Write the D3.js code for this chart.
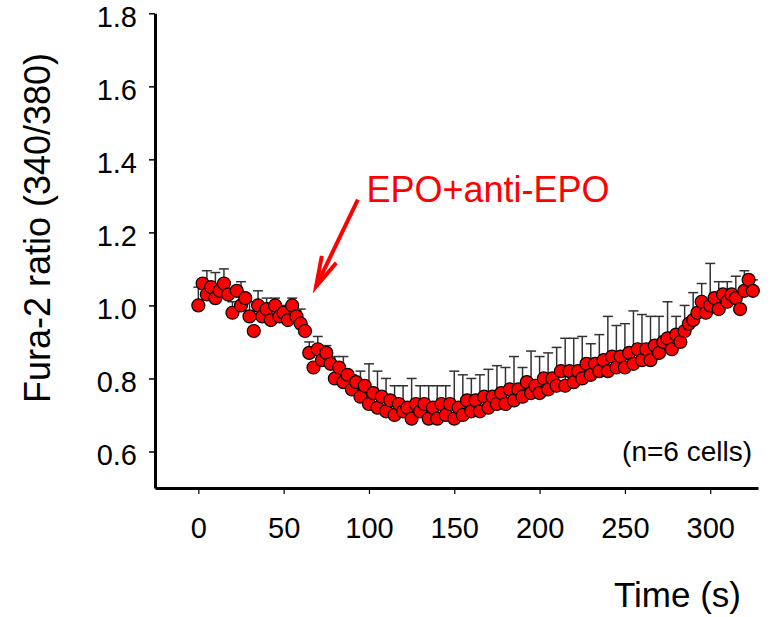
<!DOCTYPE html>
<html>
<head>
<meta charset="utf-8">
<script src="https://cdn.jsdelivr.net/npm/d3@7"></script>
<style>
body { margin: 0; background: #fff; }
text { font-family: "Liberation Sans", Arial, sans-serif; }
</style>
</head>
<body>
<script>
var width = 780, height = 617;

// Fura-2 ratio, one sample every 2.5 s from 0 to 325 s
var step = 2.5;
var ratio = [
  1.00, 1.06, 1.03, 1.05, 1.02, 1.04, 1.06, 1.03, 0.98, 1.04,
  1.00, 1.02, 0.97, 0.93, 1.00, 0.97, 0.99, 0.96, 1.00, 0.97,
  0.98, 0.96, 1.00, 0.97, 0.95, 0.93, 0.87, 0.83, 0.88, 0.85,
  0.87, 0.84, 0.80, 0.83, 0.79, 0.81, 0.77, 0.79, 0.75, 0.78,
  0.73, 0.76, 0.72, 0.75, 0.71, 0.74, 0.70, 0.73, 0.71, 0.72,
  0.69, 0.73, 0.71, 0.73, 0.69, 0.72, 0.69, 0.73, 0.70, 0.73,
  0.69, 0.72, 0.70, 0.74, 0.71, 0.74, 0.71, 0.75, 0.72, 0.75,
  0.73, 0.76, 0.73, 0.77, 0.74, 0.77, 0.75, 0.79, 0.76, 0.78,
  0.76, 0.80, 0.77, 0.80, 0.78, 0.82, 0.78, 0.82, 0.79, 0.82,
  0.80, 0.84, 0.81, 0.84, 0.82, 0.85, 0.82, 0.86, 0.83, 0.86,
  0.83, 0.87, 0.84, 0.88, 0.85, 0.88, 0.85, 0.89, 0.87, 0.90,
  0.91, 0.88, 0.92, 0.90, 0.93, 0.95, 0.96, 0.98, 1.01, 0.98,
  1.00, 1.02, 0.99, 1.03, 1.01, 1.03, 1.02, 0.99, 1.04, 1.07,
  1.04
];
// SEM (upper bar only), drawn on every other sample = every 5 s
var sem = [
  0.05, 0.065, 0.07, 0.04, 0.03, 0.065, 0.04, 0.04, 0.03, 0.02,
  0.02, 0.02, 0.04, 0.03, 0.035, 0.02, 0.06, 0.07, 0.04, 0.07,
  0.11, 0.10, 0.09, 0.08, 0.07, 0.11, 0.07, 0.09, 0.09, 0.08,
  0.13, 0.11, 0.09, 0.10, 0.105, 0.105, 0.10, 0.12, 0.08, 0.115,
  0.10, 0.10, 0.105, 0.13, 0.12, 0.115, 0.085, 0.10, 0.15, 0.115,
  0.12, 0.145, 0.125, 0.12, 0.10, 0.10, 0.05, 0.07, 0.075, 0.05,
  0.115, 0.075, 0.055, 0.06, 0.055, 0.03
];
var xTicks = [0, 50, 100, 150, 200, 250, 300];
var yTicks = [0.6, 0.8, 1.0, 1.2, 1.4, 1.6, 1.8];

// annotation, in data units
var arrowFrom = [93.5, 1.29], arrowTip = [69, 1.052];
var labelAt = [98.5, 1.284];

var data = ratio.map(function(v, i) {
  return {t: i * step, v: v, e: i % 2 === 0 ? sem[i / 2] : null};
});

var x = d3.scaleLinear().domain([-25.4, 328]).range([155, 758]);
var y = d3.scaleLinear().domain([0.5, 1.8]).range([488, 13.3]);

var svg = d3.select("body").append("svg")
    .attr("width", width)
    .attr("height", height);

// y axis
var gy = svg.append("g")
    .attr("transform", "translate(" + x.range()[0] + ",0)")
    .call(d3.axisLeft(y).tickValues(yTicks).tickFormat(d3.format(".1f"))
      .tickSize(6).tickSizeOuter(0).tickPadding(12));
gy.select(".domain").attr("stroke-width", 3);
gy.selectAll(".tick line").attr("stroke-width", 1.5);
gy.selectAll(".tick text").attr("font-size", 29).attr("fill", "#000")
    .attr("dy", "0.45em")
    .attr("font-family", "Liberation Sans, Arial, sans-serif");

// x axis
var gx = svg.append("g")
    .attr("transform", "translate(0," + y.range()[0] + ")")
    .call(d3.axisBottom(x).tickValues(xTicks).tickSize(6).tickSizeOuter(0));
gx.select(".domain").attr("stroke-width", 3);
gx.selectAll(".tick line").attr("y1", 2).attr("stroke-width", 1.2);
gx.selectAll(".tick text").attr("font-size", 29).attr("fill", "#000")
    .attr("y", 50).attr("dy", 0)
    .attr("font-family", "Liberation Sans, Arial, sans-serif");

// error bars first, circles on top
var bars = svg.append("g").attr("stroke", "#333").attr("stroke-width", 1.5);
var withErr = data.filter(function(d) { return d.e !== null; });
bars.selectAll(".stem")
  .data(withErr)
  .enter().append("line")
    .attr("x1", function(d) { return x(d.t); })
    .attr("x2", function(d) { return x(d.t); })
    .attr("y1", function(d) { return y(d.v); })
    .attr("y2", function(d) { return y(d.v + d.e); });
bars.selectAll(".cap")
  .data(withErr)
  .enter().append("line")
    .attr("x1", function(d) { return x(d.t) - 5; })
    .attr("x2", function(d) { return x(d.t) + 5; })
    .attr("y1", function(d) { return y(d.v + d.e); })
    .attr("y2", function(d) { return y(d.v + d.e); });

svg.append("g").selectAll("circle")
  .data(data)
  .enter().append("circle")
    .attr("cx", function(d) { return x(d.t); })
    .attr("cy", function(d) { return y(d.v); })
    .attr("r", 6.5)
    .attr("fill", "#ff0000")
    .attr("stroke", "#000")
    .attr("stroke-width", 1.2);

// arrow + label
var tip = [x(arrowTip[0]), y(arrowTip[1])];
var from = [x(arrowFrom[0]), y(arrowFrom[1])];
var ang = Math.atan2(from[1] - tip[1], from[0] - tip[0]);
var barb = 31, spread = 15 * Math.PI / 180;
var arrow = svg.append("g").attr("stroke", "#ff0000").attr("stroke-width", 4)
    .attr("fill", "none").attr("stroke-linecap", "butt");
arrow.append("line")
    .attr("x1", from[0]).attr("y1", from[1])
    .attr("x2", tip[0]).attr("y2", tip[1]);
arrow.append("path")
    .attr("stroke-linejoin", "miter")
    .attr("d", "M" + (tip[0] + barb * Math.cos(ang - spread)) + "," + (tip[1] + barb * Math.sin(ang - spread)) +
               "L" + tip[0] + "," + tip[1] +
               "L" + (tip[0] + barb * Math.cos(ang + spread)) + "," + (tip[1] + barb * Math.sin(ang + spread)));

svg.append("text")
    .attr("x", x(labelAt[0])).attr("y", y(labelAt[1]))
    .attr("font-size", 36).attr("fill", "#ff0000")
    .text("EPO+anti-EPO");

// axis titles and note
svg.append("text")
    .attr("transform", "translate(50,228) rotate(-90)")
    .attr("text-anchor", "middle")
    .attr("font-size", 36)
    .text("Fura-2 ratio (340/380)");

svg.append("text")
    .attr("x", 741).attr("y", 607)
    .attr("text-anchor", "end")
    .attr("font-size", 35)
    .text("Time (s)");

svg.append("text")
    .attr("x", 752).attr("y", 461)
    .attr("text-anchor", "end")
    .attr("font-size", 28)
    .text("(n=6 cells)");
</script>
</body>
</html>
